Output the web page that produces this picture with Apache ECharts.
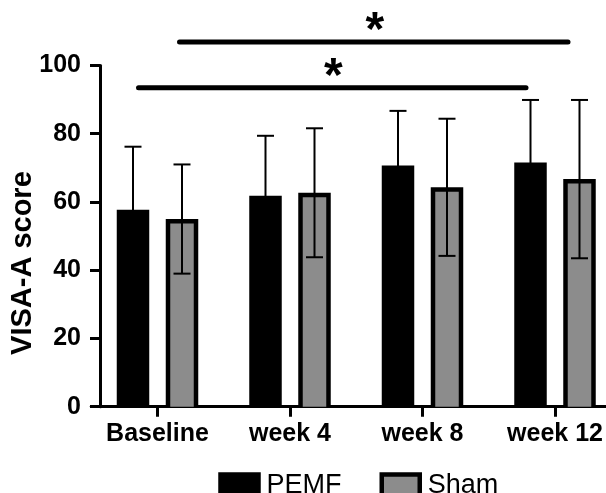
<!DOCTYPE html>
<html><head><meta charset="utf-8">
<script src="https://cdn.jsdelivr.net/npm/echarts@6/dist/echarts.min.js"></script>
<style>html,body{margin:0;padding:0;background:#fff}#c{width:606px;height:493px}</style>
</head><body><div id="c"></div>
<script>
// ---- data ----
const categories = ['Baseline', 'week 4', 'week 8', 'week 12'];
const pemfMean = [57.7, 61.8, 70.7, 71.6];
const pemfSD   = [18.5, 17.6, 16.0, 18.3];
const shamMean = [55.0, 62.7, 64.3, 66.7];
const shamSD   = [16.0, 18.9, 20.1, 23.2];
const yTicks = [0, 20, 40, 60, 80, 100];
// significance brackets
const sigFrom  = [0, 0];
const sigTo    = [3, 3];
const sigGroup = ['PEMF', 'Sham'];
const sigLevel = [93.5, 106.9];
const sigLabel = ['*', '*'];

// ---- layout / style ----
const FONT = 'Liberation Sans';
const BAR_OFFSET = { PEMF: -24.5, Sham: 24.5 };
const BAR_W = 32.5, BW = 4.5, ERR_LW = 2, CAP_W = 17;
const SHAM_FILL = '#8c8c8c';
const SIG_INSET = [[5.5, -4.5], [-2.5, -11.5]];
const STAR_SIZE = 48, STAR_DY = 10;

function barRender(group) {
  return function (params, api) {
    const ci = api.value(0), m = api.value(1), sd = api.value(2);
    const p0 = api.coord([ci, 0]);
    const pm = api.coord([ci, m]);
    const ph = api.coord([ci, m + sd]);
    const pl = api.coord([ci, m - sd]);
    const cx = p0[0] + BAR_OFFSET[group];
    const x0 = cx - BAR_W / 2;
    const kids = [{ type: 'rect', shape: { x: x0, y: pm[1], width: BAR_W, height: p0[1] - pm[1] }, style: { fill: '#000' } }];
    if (group === 'Sham') {
      kids.push({ type: 'rect', shape: { x: x0 + BW, y: pm[1] + BW, width: BAR_W - 2 * BW, height: p0[1] - pm[1] - BW }, style: { fill: SHAM_FILL } });
    }
    const ls = { stroke: '#000', lineWidth: ERR_LW };
    kids.push({ type: 'line', shape: { x1: cx, y1: ph[1], x2: cx, y2: pl[1] }, style: ls });
    kids.push({ type: 'line', shape: { x1: cx - CAP_W / 2, y1: ph[1], x2: cx + CAP_W / 2, y2: ph[1] }, style: ls });
    kids.push({ type: 'line', shape: { x1: cx - CAP_W / 2, y1: pl[1], x2: cx + CAP_W / 2, y2: pl[1] }, style: ls });
    return { type: 'group', children: kids };
  };
}

function sigRender(params, api) {
  const i = api.value(0);
  const y = api.coord([0, api.value(1)])[1];
  const off = BAR_OFFSET[sigGroup[i]];
  const xa = api.coord([sigFrom[i], 0])[0] + off + SIG_INSET[i][0];
  const xb = api.coord([sigTo[i], 0])[0] + off + SIG_INSET[i][1];
  return {
    type: 'group', children: [
      { type: 'line', shape: { x1: xa, y1: y, x2: xb, y2: y }, style: { stroke: '#000', lineWidth: 5, lineCap: 'round' } },
      { type: 'text', x: (xa + xb) / 2 + 1, y: y - STAR_DY,
        style: { text: sigLabel[i], fontSize: STAR_SIZE, fontWeight: 'bold', fontFamily: FONT, fill: '#000', align: 'center', verticalAlign: 'middle' } }
    ]
  };
}

const chart = echarts.init(document.getElementById('c'), null, { renderer: 'canvas' });
chart.setOption({
  animation: false,
  backgroundColor: '#fff',
  grid: { left: 91.25, right: -15.25, top: 65.5, bottom: 86.3, containLabel: false, outerBoundsMode: 'none' },
  legend: {
    data: [
      { name: 'PEMF', icon: 'rect', itemStyle: { color: '#000', borderColor: '#000', borderWidth: BW } },
      { name: 'Sham', icon: 'rect', itemStyle: { color: SHAM_FILL, borderColor: '#000', borderWidth: BW } }
    ],
    left: 213.25, top: 467, padding: 5, itemWidth: 38, itemHeight: 22, itemGap: 38, selectedMode: false,
    textStyle: { fontSize: 27, fontFamily: FONT, color: '#000', padding: [0, 0, 0, 3] }
  },
  xAxis: {
    type: 'category', data: categories,
    axisLine: { show: true, lineStyle: { color: '#000', width: 3 } },
    axisTick: { show: true, alignWithLabel: true, length: 10, lineStyle: { color: '#000', width: 3 } },
    axisLabel: { fontSize: 25, fontWeight: 'bold', fontFamily: FONT, color: '#000', margin: 15, interval: 0 },
    splitLine: { show: false }
  },
  yAxis: {
    type: 'value', min: yTicks[0], max: yTicks[yTicks.length - 1], interval: yTicks[1] - yTicks[0], offset: -8.75,
    name: 'VISA-A score', nameLocation: 'middle', nameGap: 63, nameMoveOverlap: false,
    nameTextStyle: { fontSize: 29, fontWeight: 'bold', fontFamily: FONT, color: '#000', padding: [0, 54, 0, 0] },
    axisLine: { show: true, lineStyle: { color: '#000', width: 3 } },
    axisTick: { show: true, length: 10, lineStyle: { color: '#000', width: 3 } },
    axisLabel: { fontSize: 25, fontWeight: 'bold', fontFamily: FONT, color: '#000', margin: 19 },
    splitLine: { show: false }
  },
  series: [
    { type: 'custom', name: 'PEMF', itemStyle: { color: '#000' }, encode: { x: 0, y: 1 },
      data: categories.map((c, i) => [i, pemfMean[i], pemfSD[i]]), renderItem: barRender('PEMF') },
    { type: 'custom', name: 'Sham', itemStyle: { color: SHAM_FILL }, encode: { x: 0, y: 1 },
      data: categories.map((c, i) => [i, shamMean[i], shamSD[i]]), renderItem: barRender('Sham') },
    { type: 'custom', name: 'sig', clip: false, silent: true, z: 10, encode: { x: 0, y: 1 },
      data: sigLevel.map((v, i) => [i, v]), renderItem: sigRender }
  ]
});
</script></body></html>
